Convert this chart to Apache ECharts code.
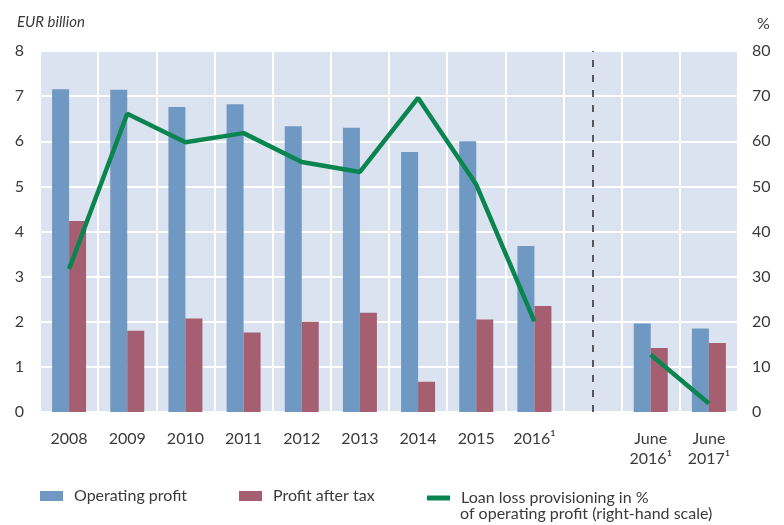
<!DOCTYPE html>
<html lang="en">
<head>
    <meta charset="UTF-8">
    <title>Operating profit and profit after tax</title>
    <script src="https://cdn.jsdelivr.net/npm/echarts@6/dist/echarts.min.js"></script>
    <style>
        html,body{
            margin: 0;
            height: 100%;
            background: #fff;
        }
    </style>
</head>
<body>
<!--chart container-->
<div id="main" style="width: 784px;height: 525px"></div>
<script>
    // categories (blank slot before the half-year figures)
    var categories = ['2008', '2009', '2010', '2011', '2012', '2013', '2014', '2015', '2016¹', ' ', 'June\n2016¹', 'June\n2017¹'];
    // EUR billion
    var operatingProfit = [7.15, 7.14, 6.76, 6.82, 6.33, 6.30, 5.76, 6.00, 3.68, null, 1.96, 1.85];
    var profitAfterTax = [4.23, 1.80, 2.07, 1.76, 2.00, 2.20, 0.67, 2.05, 2.35, null, 1.42, 1.53];
    // % of operating profit, right-hand scale
    var loanLoss = [31.7, 66.1, 59.8, 61.8, 55.4, 53.2, 69.6, 50.4, 20.1, null, 12.7, 1.9];
    var leftTicks = [0, 8, 1];
    var rightTicks = [0, 80, 10];

    var txt = '#3a3a3a';
    var font = 'Lato';

    var myChart = echarts.init(document.getElementById('main'));

    var legendText = {color: txt, fontSize: 16, fontFamily: font, padding: [0, 0, 0, 6]};

    var option = {
        animation: false,
        textStyle: {fontFamily: font},
        grid: {
            left: 40, right: 46, top: 51, bottom: 113,
            show: true,
            backgroundColor: '#dae3ef',
            borderWidth: 0
        },
        legend: [
            {
                data: ['Operating profit'],
                left: 35, top: 483,
                itemWidth: 23, itemHeight: 10,
                icon: 'rect',
                textStyle: legendText
            },
            {
                data: ['Profit after tax'],
                left: 234, top: 483,
                itemWidth: 23, itemHeight: 10,
                icon: 'rect',
                textStyle: legendText
            },
            {
                data: ['Loan loss provisioning in %'],
                left: 422, top: 485,
                itemWidth: 23, itemHeight: 5,
                icon: 'rect',
                textStyle: legendText
            }
        ],
        graphic: [
            {type: 'text', left: 460, top: 506,
                style: {text: 'of operating profit (right-hand scale)', fill: txt, font: '16px Lato'}},
            {type: 'text', left: 17, top: 15,
                style: {text: 'EUR billion', fill: txt, font: 'italic 15px Lato'}},
            {type: 'text', left: 757, top: 16,
                style: {text: '%', fill: txt, font: '16px Lato'}}
        ],
        xAxis: {
            type: 'category',
            data: categories,
            boundaryGap: true,
            axisLine: {show: false},
            axisTick: {show: false},
            axisLabel: {color: txt, fontSize: 16, margin: 17, lineHeight: 20, verticalAlign: 'top', interval: 0},
            splitLine: {show: true, lineStyle: {color: '#ffffff', width: 2}}
        },
        yAxis: [
            {
                type: 'value',
                min: leftTicks[0], max: leftTicks[1], interval: leftTicks[2],
                axisLine: {show: false},
                axisTick: {show: false},
                axisLabel: {color: txt, fontSize: 16, margin: 16},
                splitLine: {show: true, lineStyle: {color: '#ffffff', width: 2}}
            },
            {
                type: 'value',
                min: rightTicks[0], max: rightTicks[1], interval: rightTicks[2],
                axisLine: {show: false},
                axisTick: {show: false},
                axisLabel: {color: txt, fontSize: 16, margin: 14},
                splitLine: {show: false}
            }
        ],
        series: [
            {
                name: 'Operating profit',
                type: 'bar',
                data: operatingProfit,
                barWidth: 17,
                barGap: '0%',
                itemStyle: {color: '#6f98c3'}
            },
            {
                name: 'Profit after tax',
                type: 'bar',
                data: profitAfterTax,
                barWidth: 17,
                itemStyle: {color: '#a55f70'}
            },
            {
                name: 'Loan loss provisioning in %',
                type: 'line',
                yAxisIndex: 1,
                data: loanLoss,
                connectNulls: false,
                symbol: 'none',
                lineStyle: {color: '#0a8550', width: 4.5},
                itemStyle: {color: '#0a8550'},
                z: 5,
                // dashed separator in the blank category
                markLine: {
                    silent: true,
                    symbol: 'none',
                    label: {show: false},
                    lineStyle: {color: '#2a2a2a', type: [7, 8], width: 1.5},
                    data: [{xAxis: 9}]
                }
            }
        ]
    };
    myChart.setOption(option);
</script>
</body>
</html>
